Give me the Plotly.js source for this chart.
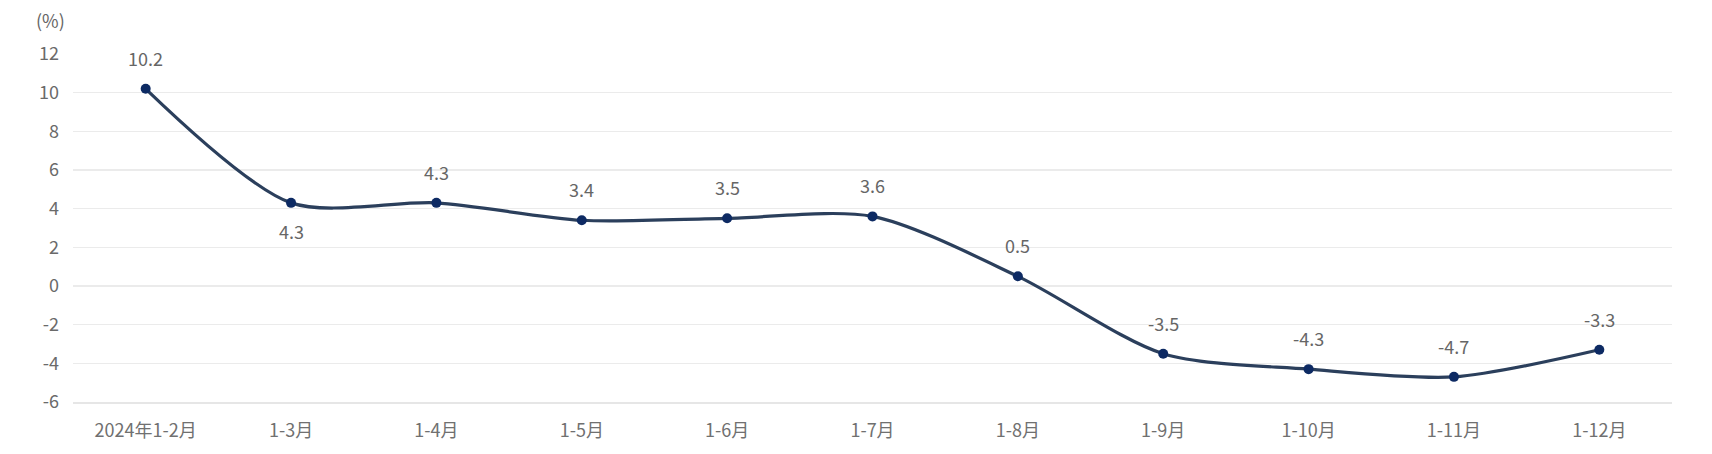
<!DOCTYPE html>
<html>
<head>
<meta charset="utf-8">
<script src="https://cdn.plot.ly/plotly-3.0.1.min.js"></script>
<style>html,body{margin:0;padding:0;background:#fff;}#chart{width:1712px;height:454px;}</style>
</head>
<body>
<div id="chart"></div>
<script>
const categories = ["2024年1-2月","1-3月","1-4月","1-5月","1-6月","1-7月","1-8月","1-9月","1-10月","1-11月","1-12月"];
const values = [10.2, 4.3, 4.3, 3.4, 3.5, 3.6, 0.5, -3.5, -4.3, -4.7, -3.3];
const labelBelow = [false, true, false, false, false, false, false, false, false, false, false];
const yTicks = [-6,-4,-2,0,2,4,6,8,10,12];
const yTickText = ["-6","-4","-2","0","2","4","6","8","10","12"];

const font = "'Noto Sans CJK SC', 'Noto Sans', sans-serif";

const trace = {
  x: categories,
  y: values,
  type: 'scatter',
  mode: 'lines+markers',
  line: {shape: 'spline', smoothing: 0.8, color: '#2b3f5c', width: 3.2},
  marker: {color: '#0d2a63', size: 10},
  hoverinfo: 'x+y'
};

const annotations = categories.map((c, i) => ({
  x: c, y: values[i], xref: 'x', yref: 'y',
  text: values[i].toFixed(1),
  showarrow: false,
  yshift: labelBelow[i] ? -28 : 31,
  font: {family: font, size: 18, color: '#666666'}
}));
annotations.push({
  xref: 'paper', yref: 'paper', x: 0, y: 1, xanchor: 'right', yanchor: 'bottom',
  xshift: -6, yshift: 19, text: '(%)', showarrow: false,
  font: {family: font, size: 18, color: '#666666'}
});

const layout = {
  width: 1712, height: 454,
  margin: {l: 73, r: 40, t: 54, b: 52},
  paper_bgcolor: '#fff', plot_bgcolor: '#fff',
  showlegend: false,
  xaxis: {
    type: 'category', range: [-0.5, 10.5],
    showgrid: false, zeroline: false,
    showline: true, linecolor: '#e6e6e6', linewidth: 2,
    ticks: '', ticklen: 0, ticklabelstandoff: 11,
    tickfont: {family: font, size: 18, color: '#707070'}
  },
  yaxis: {
    range: [-6, 12], tickvals: yTicks, ticktext: yTickText,
    showgrid: true, gridcolor: '#ebebeb', gridwidth: 1.5,
    zeroline: false, showline: false,
    ticks: '', ticklabelstandoff: 13,
    tickfont: {family: font, size: 18, color: '#6a6a6a'}
  },
  annotations: annotations
};

Plotly.newPlot('chart', [trace], layout, {displayModeBar: false, staticPlot: true});
</script>
</body>
</html>
